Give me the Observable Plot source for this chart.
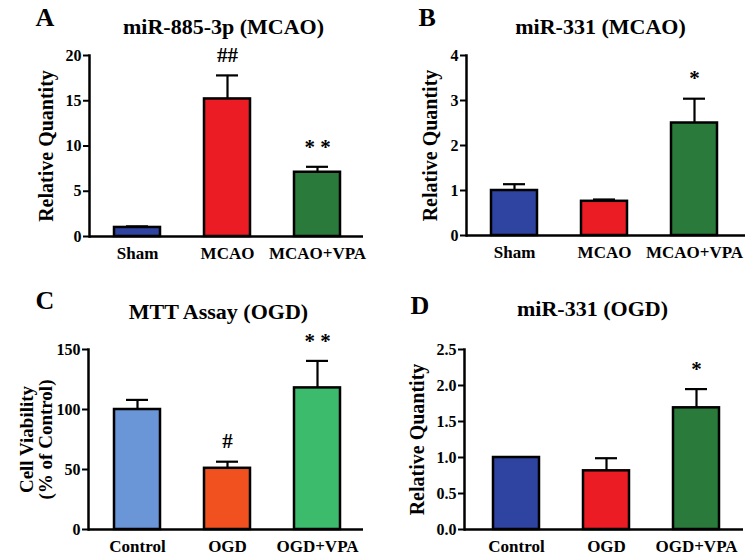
<!DOCTYPE html>
<html>
<head>
<meta charset="utf-8">
<script src="https://cdn.jsdelivr.net/npm/d3@7"></script>
<script src="https://cdn.jsdelivr.net/npm/@observablehq/plot@0.6"></script>
<style>
  html, body { margin: 0; padding: 0; background: #fff; }
  #wrap { position: relative; width: 746px; height: 556px; overflow: hidden; background: #fff; }
  .panel { position: absolute; width: 373px; height: 278px; }
</style>
</head>
<body>
<div id="wrap"></div>
<script>
// ---- data ----
const panelLetters = ["A", "B", "C", "D"];
const panelTitles = ["miR-885-3p (MCAO)", "miR-331 (MCAO)", "MTT Assay (OGD)", "miR-331 (OGD)"];
const yLabels = ["Relative Quantity", "Relative Quantity", "Cell Viability\n(% of Control)", "Relative Quantity"];

const catsMCAO = ["Sham", "MCAO", "MCAO+VPA"];
const catsOGD = ["Control", "OGD", "OGD+VPA"];

const aValues = [1.0, 15.2, 7.1];
const aErrors = [0.12, 2.6, 0.6];
const aSig = ["", "##", "* *"];
const aTicks = [0, 5, 10, 15, 20];

const bValues = [1.0, 0.76, 2.5];
const bErrors = [0.14, 0.04, 0.54];
const bSig = ["", "", "*"];
const bTicks = [0, 1, 2, 3, 4];

const cValues = [100, 51, 118];
const cErrors = [8, 5.5, 22.5];
const cSig = ["", "#", "* *"];
const cTicks = [0, 50, 100, 150];

const dValues = [1.0, 0.815, 1.69];
const dErrors = [0, 0.175, 0.26];
const dSig = ["", "", "*"];
const dTicks = [0, 0.5, 1.0, 1.5, 2.0, 2.5];

const colorsDark = ["#2f43a0", "#ec1c24", "#2a7b3b"];
const colorsLight = ["#6a95d6", "#f1511f", "#3dbb6c"];

// ---- layout (styles only) ----
const layouts = [
  {left: 0,   top: 0,   ml: 89, mr: 10, mt: 55, mb: 42, range: [114, 340], titleX: 223, titleY: 33, letterX: 35, letterY: 25, ylabX: 46, fmt: d3.format("d")},
  {left: 373, top: 0,   ml: 93, mr: 1,  mt: 55, mb: 43, range: [117, 344], titleX: 227, titleY: 33, letterX: 45, letterY: 25, ylabX: 57, fmt: d3.format("d")},
  {left: 0,   top: 278, ml: 88, mr: 10, mt: 71, mb: 27, range: [114, 340], titleX: 218, titleY: 40, letterX: 35, letterY: 30, ylabX: 36, fmt: d3.format("d")},
  {left: 373, top: 278, ml: 91, mr: 3,  mt: 71, mb: 27, range: [119, 346], titleX: 219, titleY: 37, letterX: 37, letterY: 35, ylabX: 44, fmt: d3.format(".1f")}
];

const series = [
  {cats: catsMCAO, values: aValues, errors: aErrors, sig: aSig, ticks: aTicks, colors: colorsDark},
  {cats: catsMCAO, values: bValues, errors: bErrors, sig: bSig, ticks: bTicks, colors: colorsDark},
  {cats: catsOGD,  values: cValues, errors: cErrors, sig: cSig, ticks: cTicks, colors: colorsLight},
  {cats: catsOGD,  values: dValues, errors: dErrors, sig: dSig, ticks: dTicks, colors: colorsDark}
];

const wrap = document.getElementById("wrap");
const FONT = "'Liberation Serif', 'Times New Roman', Times, serif";

series.forEach((s, i) => {
  const L = layouts[i];
  const rows = s.cats.map((c, j) => ({cat: c, v: s.values[j], e: s.errors[j], sig: s.sig[j], col: s.colors[j]}));
  const errRows = rows.filter(d => d.e > 0);
  const plot = Plot.plot({
    width: 373,
    height: 278,
    marginLeft: L.ml,
    marginRight: L.mr,
    marginTop: L.mt,
    marginBottom: L.mb,
    style: {fontFamily: FONT, fontWeight: "bold", background: "white", overflow: "visible", color: "black"},
    x: {domain: s.cats, range: L.range, paddingInner: 0.49, paddingOuter: 0},
    y: {domain: [0, s.ticks[s.ticks.length - 1]]},
    color: {type: "identity"},
    marks: [
      Plot.ruleX(errRows, {x: "cat", y1: "v", y2: d => d.v + d.e, stroke: "black", strokeWidth: 2.2}),
      Plot.tickY(errRows, {x: "cat", y: d => d.v + d.e, stroke: "black", strokeWidth: 2.2, insetLeft: 12, insetRight: 12}),
      Plot.barY(rows, {x: "cat", y: "v", fill: "col", stroke: "black", strokeWidth: 2.5}),
      Plot.ruleY([0], {stroke: "black", strokeWidth: 2.5}),
      Plot.frame({anchor: "left", stroke: "black", strokeWidth: 2.5}),
      Plot.axisY({ticks: s.ticks, tickFormat: L.fmt, tickSize: 6, tickPadding: 2, fontSize: 16, strokeWidth: 2, label: null}),
      Plot.axisX({tickSize: 0, tickPadding: 10, fontSize: 17, label: null}),
      Plot.text(rows, {x: "cat", y: d => d.v + d.e, text: "sig", dy: -20, fontSize: 21, lineAnchor: "middle"}),
      Plot.text([panelTitles[i]], {frameAnchor: "top-left", dx: L.titleX - L.ml, dy: L.titleY - L.mt, textAnchor: "middle", lineAnchor: "bottom", fontSize: 22}),
      Plot.text([panelLetters[i]], {frameAnchor: "top-left", dx: L.letterX - L.ml, dy: L.letterY - L.mt, textAnchor: "start", lineAnchor: "bottom", fontSize: 26}),
      Plot.text([yLabels[i]], {frameAnchor: "left", dx: L.ylabX - L.ml, rotate: -90, textAnchor: "middle", lineAnchor: "middle", fontSize: i === 2 ? 19 : 20})
    ]
  });
  const div = document.createElement("div");
  div.className = "panel";
  div.style.left = L.left + "px";
  div.style.top = L.top + "px";
  div.appendChild(plot);
  wrap.appendChild(div);
});
</script>
</body>
</html>
